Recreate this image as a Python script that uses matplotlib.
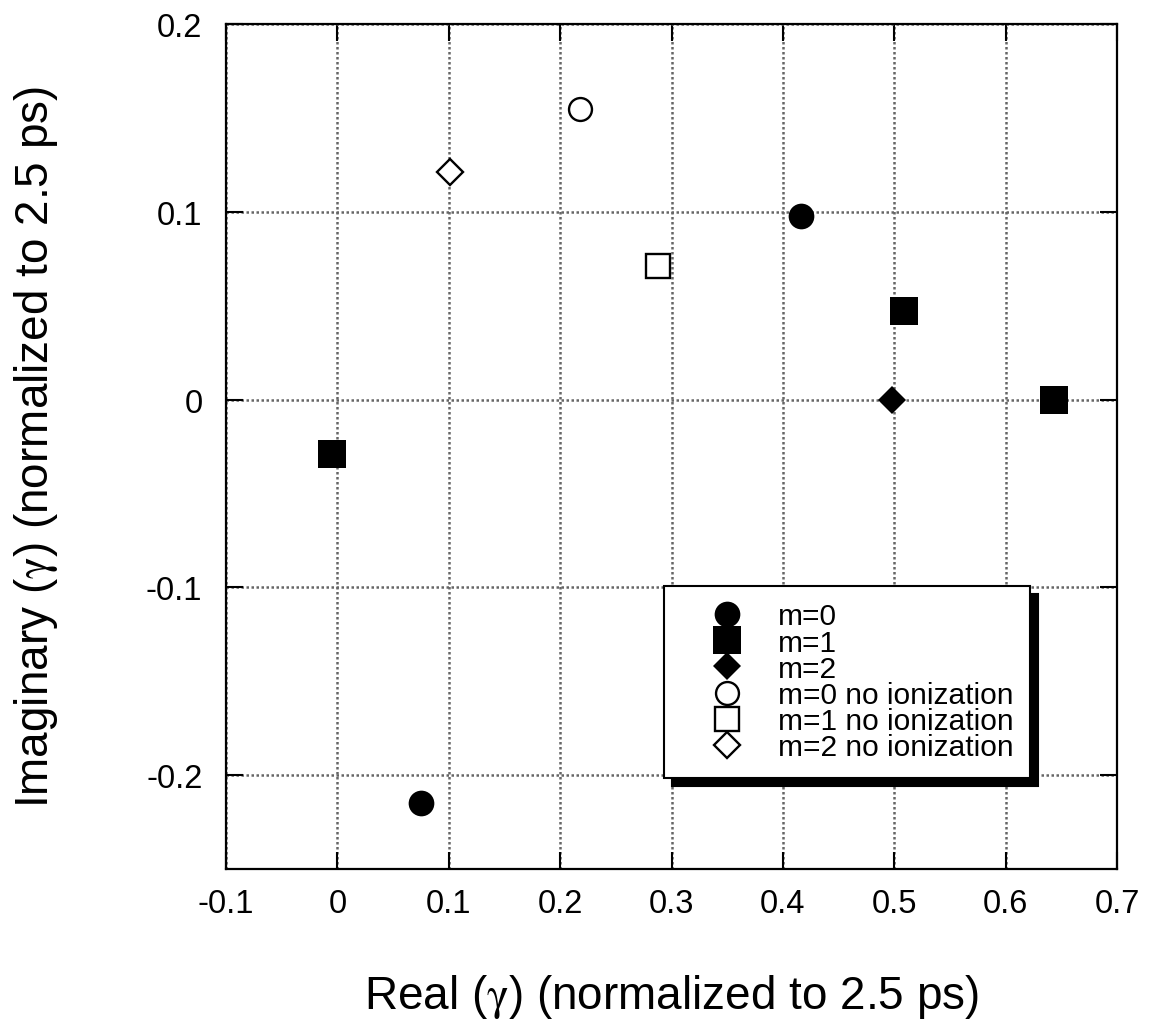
import numpy as np
import matplotlib
matplotlib.use("Agg")
import matplotlib.pyplot as plt

plt.rcParams['font.family'] = ['Liberation Sans', 'DejaVu Sans']
plt.rcParams['mathtext.fontset'] = 'stix'

# datos (parte real, parte imaginaria)
m0_re = [0.416, 0.0755]
m0_im = [0.098, -0.215]
m1_re = [-0.005, 0.509, 0.643]
m1_im = [-0.029, 0.047, 0.0]
m2_re = [0.498]
m2_im = [0.0]
m0_noion_re = [0.218]
m0_noion_im = [0.155]
m1_noion_re = [0.288]
m1_noion_im = [0.0712]
m2_noion_re = [0.101]
m2_noion_im = [0.121]

xticks = [-0.1, 0, 0.1, 0.2, 0.3, 0.4, 0.5, 0.6, 0.7]
xtick_labels = ["-0.1", "0", "0.1", "0.2", "0.3", "0.4", "0.5", "0.6", "0.7"]
yticks = [-0.2, -0.1, 0, 0.1, 0.2]
ytick_labels = ["-0.2", "-0.1", "0", "0.1", "0.2"]

fig = plt.figure(figsize=(11.52, 10.20), dpi=100)
ax = fig.add_axes([226/1152, 1-870/1020, (1117-226)/1152, (870-25)/1020])

ax.plot(m0_re, m0_im, "o", color="black", ms=18.5, mew=0, label="m=0", zorder=3)
ax.plot(m1_re, m1_im, "s", color="black", ms=19.5, mew=0, label="m=1", zorder=3)
ax.plot(m2_re, m2_im, "D", color="black", ms=14, mew=0, label="m=2", zorder=3)
ax.plot(m0_noion_re, m0_noion_im, "o", mfc="white", mec="black", ms=16.5, mew=1.7,
        label="m=0 no ionization", zorder=3)
ax.plot(m1_noion_re, m1_noion_im, "s", mfc="white", mec="black", ms=17.5, mew=1.7,
        label="m=1 no ionization", zorder=3)
ax.plot(m2_noion_re, m2_noion_im, "D", mfc="white", mec="black", ms=13, mew=1.7,
        label="m=2 no ionization", zorder=3)

ax.set_xlim(-0.1, 0.7)
ax.set_ylim(-0.25, 0.2)
ax.set_xticks(xticks)
ax.set_xticklabels(xtick_labels)
ax.set_yticks(yticks)
ax.set_yticklabels(ytick_labels)
ax.tick_params(direction="in", length=12, width=1.5, top=True, right=True,
               labelsize=23.5, pad=14)
ax.tick_params(axis="y", pad=17)
ax.grid(True, color="#666666", linestyle=(0, (1, 1)), linewidth=1.8)
ax.set_axisbelow(True)
for s in ax.spines.values():
    s.set_linewidth(1.6)

ax.set_xlabel(r"Real ($\mathrm{\gamma}$) (normalized to 2.5 ps)", fontsize=33, labelpad=38)
ax.set_ylabel(r"Imaginary ($\mathrm{\gamma}$) (normalized to 2.5 ps)", fontsize=33, labelpad=62)

leg = ax.legend(loc="upper left", bbox_to_anchor=(0.4916, 0.3349), borderaxespad=0,
                fontsize=21.5, labelspacing=-0.06, handletextpad=0.16, handlelength=3.1,
                borderpad=0.55, fancybox=False, edgecolor="black", framealpha=1,
                shadow={"ox": 6, "oy": -6, "shade": 1.0, "alpha": 1})
leg.get_frame().set_linewidth(1.5)

plt.savefig("out.png", dpi=100)
